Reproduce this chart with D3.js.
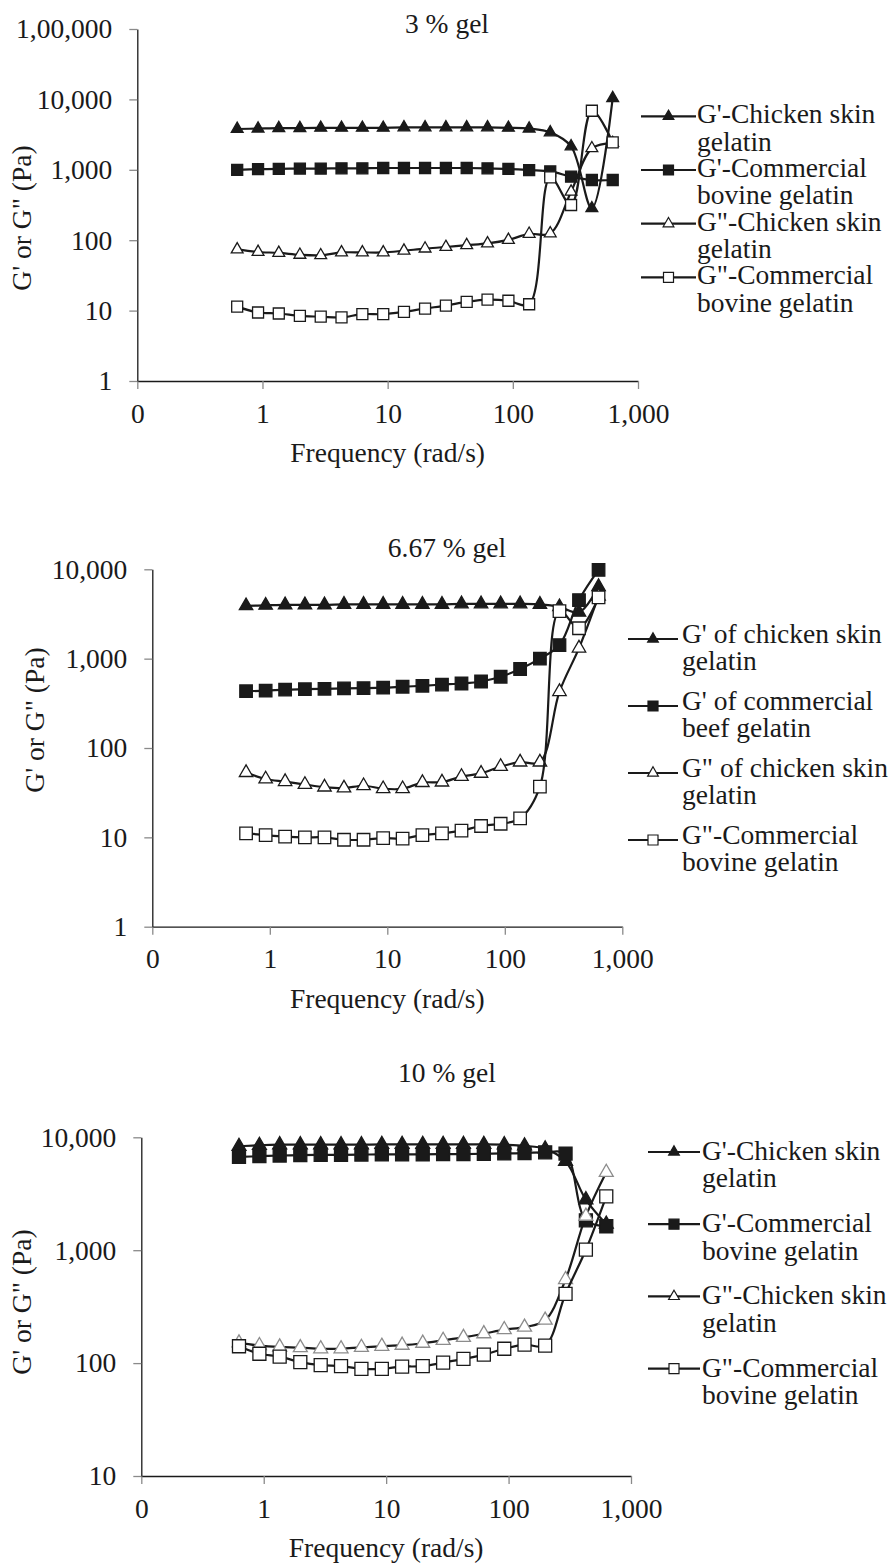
<!DOCTYPE html>
<html>
<head>
<meta charset="utf-8">
<script src="https://cdn.jsdelivr.net/npm/d3@7"></script>
<style>
  html, body { margin: 0; padding: 0; background: #fff; }
</style>
</head>
<body>
<div id="chart"></div>
<script>
// frequency sweep (rad/s), shared by all three gels
const freq = [0.628, 0.922, 1.35, 1.99, 2.92, 4.28, 6.28, 9.22, 13.5, 19.9, 29.2, 42.8, 62.8, 92.2, 135, 199, 292, 428, 628];

const xTicks = [0.1, 1, 10, 100, 1000];
const xTickLabels = ["0", "1", "10", "100", "1,000"];

// 3 % gel
const gpChicken3 = [3800, 3850, 3900, 3900, 3950, 3950, 3950, 3950, 4000, 4000, 4000, 4000, 4000, 3950, 3850, 3400, 2150, 284, 10400];
const gpBovine3 = [1000, 1020, 1030, 1040, 1040, 1050, 1050, 1060, 1060, 1060, 1060, 1060, 1050, 1030, 990, 950, 800, 716, 716];
const gppChicken3 = [74, 68, 66, 62, 61, 67, 67, 67, 71, 76, 80, 85, 90, 101, 123, 125, 489, 2020, 2400];
const gppBovine3 = [11.4, 9.4, 9.1, 8.4, 8.2, 8.0, 8.9, 8.9, 9.6, 10.7, 11.8, 13.3, 14.3, 13.8, 12.3, 782, 316, 6900, 2450];
const yTicks3 = [1, 10, 100, 1000, 10000, 100000];
const yTickLabels3 = ["1", "10", "100", "1,000", "10,000", "1,00,000"];
const legend3 = [
  ["G'-Chicken skin", "gelatin"],
  ["G'-Commercial", "bovine gelatin"],
  ["G\"-Chicken skin", "gelatin"],
  ["G\"-Commercial", "bovine gelatin"]
];

// 6.67 % gel
const gpChicken6 = [3900, 3950, 4000, 4000, 4000, 4050, 4050, 4050, 4050, 4050, 4050, 4100, 4100, 4100, 4100, 4050, 3800, 3300, 6400];
const gpBovine6 = [432, 438, 450, 455, 460, 465, 468, 473, 485, 497, 513, 527, 555, 627, 766, 1000, 1420, 4530, 9840];
const gppChicken6 = [53, 45, 42, 39, 36.5, 35.6, 37.8, 35, 35, 41, 41.5, 48, 52, 62, 69.5, 69.5, 427, 1310, 5000];
const gppBovine6 = [11.1, 10.6, 10.2, 10.0, 10.0, 9.4, 9.4, 9.8, 9.7, 10.6, 11.1, 11.9, 13.4, 14.2, 16.3, 37, 3410, 2190, 4860];
const yTicks6 = [1, 10, 100, 1000, 10000];
const yTickLabels6 = ["1", "10", "100", "1,000", "10,000"];
const legend6 = [
  ["G' of chicken skin", "gelatin"],
  ["G' of commercial", "beef gelatin"],
  ["G\" of chicken skin", "gelatin"],
  ["G\"-Commercial", "bovine gelatin"]
];

// 10 % gel
const gpChicken10 = [8320, 8500, 8600, 8600, 8600, 8600, 8600, 8650, 8650, 8650, 8650, 8650, 8650, 8600, 8400, 7900, 6140, 2800, 1700];
const gpBovine10 = [6700, 6800, 6900, 6950, 7000, 7000, 7030, 7050, 7050, 7050, 7100, 7100, 7150, 7200, 7250, 7360, 7180, 1840, 1630];
const gppChicken10 = [151, 143, 139, 137, 134, 134, 138, 141, 144, 150, 159, 169, 182, 198, 208, 240, 550, 2000, 4900];
const gppBovine10 = [141, 121, 114, 102, 96, 94, 89, 89, 93, 94, 101, 109, 119, 134, 146, 143, 411, 1010, 3000];
const yTicks10 = [10, 100, 1000, 10000];
const yTickLabels10 = ["10", "100", "1,000", "10,000"];
const legend10 = legend3;

const titles = ["3 % gel", "6.67 % gel", "10 % gel"];

var width = 893, height = 1564;
var fontSize = 27.5;
var fontFamily = "'Liberation Serif', 'Times New Roman', serif";

// marker style per series: filled triangle, filled square, open triangle, open square
var markerTypes = [
  { sym: d3.symbolTriangle, fill: "#1a1a1a", stroke: "#1a1a1a" },
  { sym: d3.symbolSquare, fill: "#1a1a1a", stroke: "#1a1a1a" },
  { sym: d3.symbolTriangle, fill: "#fff", stroke: "#1a1a1a" },
  { sym: d3.symbolSquare, fill: "#fff", stroke: "#1a1a1a" }
];

var panels = [
  {
    title: titles[0], titleY: 33,
    series: [gpChicken3, gpBovine3, gppChicken3, gppBovine3],
    yTicks: yTicks3, yLabels: yTickLabels3, legend: legend3,
    x0: 137.3, x1: 638, yTop: 29, yBot: 381, yDomain: [1, 100000],
    yTitleX: 31, yTitleY: 218, mk: 11,
    leg: { x0: 641, x1: 696, tx: 697, y: 123.3, step: 53.7, dy: -7 }
  },
  {
    title: titles[1], titleY: 557,
    series: [gpChicken6, gpBovine6, gppChicken6, gppBovine6],
    yTicks: yTicks6, yLabels: yTickLabels6, legend: legend6,
    x0: 152.3, x1: 622.3, yTop: 569.3, yBot: 926.7, yDomain: [1, 10000],
    yTitleX: 44, yTitleY: 720, mk: 12.5,
    leg: { x0: 628, x1: 678, tx: 682, y: 643, step: 67, dy: -4 }
  },
  {
    title: titles[2], titleY: 1082,
    series: [gpChicken10, gpBovine10, gppChicken10, gppBovine10],
    yTicks: yTicks10, yLabels: yTickLabels10, legend: legend10,
    x0: 141.3, x1: 631, yTop: 1137.3, yBot: 1476, yDomain: [10, 10000],
    yTitleX: 31, yTitleY: 1302, mk: 13, greyOpenTri: true,
    leg: { x0: 648, x1: 700, tx: 702, y: 1160, step: 72.2, dy: -8 }
  }
];

var svg = d3.select("#chart").append("svg")
  .attr("width", width)
  .attr("height", height)
  .style("font-family", fontFamily);

svg.append("rect").attr("width", width).attr("height", height).attr("fill", "#fff");

function markerPath(type, side) {
  // square gets the given side, triangle about the same width
  var area = type.sym === d3.symbolSquare ? side * side : side * side * 0.5;
  return d3.symbol().type(type.sym).size(area)();
}

function label(sel) {
  return sel.style("font-family", fontFamily)
    .style("font-size", fontSize + "px")
    .attr("fill", "#1a1a1a");
}

panels.forEach(function (p) {
  var g = svg.append("g");

  var x = d3.scaleLog().domain([0.1, 1000]).range([p.x0, p.x1]);
  var y = d3.scaleLog().domain(p.yDomain).range([p.yBot, p.yTop]);

  // title
  g.append("text")
    .attr("x", 447)
    .attr("y", p.titleY)
    .attr("text-anchor", "middle")
    .call(label)
    .text(p.title);

  // axes
  var xAxis = d3.axisBottom(x)
    .tickValues(xTicks)
    .tickFormat(function (d, i) { return xTickLabels[i]; })
    .tickSize(8).tickSizeOuter(0).tickPadding(14);
  var yAxis = d3.axisLeft(y)
    .tickValues(p.yTicks)
    .tickFormat(function (d, i) { return p.yLabels[i]; })
    .tickSize(8).tickSizeOuter(0).tickPadding(17);

  var gx = g.append("g").attr("transform", "translate(0," + p.yBot + ")").call(xAxis);
  var gy = g.append("g").attr("transform", "translate(" + p.x0 + ",0)").call(yAxis);
  [gx, gy].forEach(function (a) {
    a.attr("font-family", null).attr("font-size", null);
    a.select(".domain").attr("stroke", "#1a1a1a").attr("stroke-width", 1.3);
    a.selectAll(".tick line").attr("stroke", "#8a8a8a").attr("stroke-width", 1.3);
    a.selectAll(".tick text").call(label);
  });

  // axis titles
  g.append("text")
    .attr("x", (p.x0 + p.x1) / 2)
    .attr("y", p.yBot + 81)
    .attr("text-anchor", "middle")
    .call(label)
    .text("Frequency (rad/s)");

  g.append("text")
    .attr("transform", "translate(" + p.yTitleX + "," + p.yTitleY + ") rotate(-90)")
    .attr("text-anchor", "middle")
    .call(label)
    .text("G' or G\" (Pa)");

  var line = d3.line()
    .x(function (d) { return x(d[0]); })
    .y(function (d) { return y(d[1]); })
    .curve(d3.curveCatmullRom.alpha(0.5));

  // series: line then markers, in Excel's order
  p.series.forEach(function (vals, si) {
    var pts = vals.map(function (v, i) { return [freq[i], v]; });
    var type = markerTypes[si];
    var stroke = (si === 2 && p.greyOpenTri) ? "#8c8c8c" : type.stroke;

    g.append("path")
      .datum(pts)
      .attr("d", line)
      .attr("fill", "none")
      .attr("stroke", "#1a1a1a")
      .attr("stroke-width", 2.2);

    g.selectAll(null)
      .data(pts)
      .enter().append("path")
      .attr("transform", function (d) { return "translate(" + x(d[0]) + "," + y(d[1]) + ")"; })
      .attr("d", markerPath(type, p.mk))
      .attr("fill", type.fill)
      .attr("stroke", stroke)
      .attr("stroke-width", 1.3);
  });

  // legend, two lines per entry
  var L = p.leg;
  p.legend.forEach(function (lines, si) {
    var by = L.y + si * L.step;
    var ly = by + L.dy;
    var type = markerTypes[si];
    g.append("line")
      .attr("x1", L.x0).attr("x2", L.x1)
      .attr("y1", ly).attr("y2", ly)
      .attr("stroke", "#1a1a1a").attr("stroke-width", 2.2);
    g.append("path")
      .attr("transform", "translate(" + ((L.x0 + L.x1) / 2) + "," + ly + ")")
      .attr("d", markerPath(type, 10))
      .attr("fill", type.fill)
      .attr("stroke", type.stroke)
      .attr("stroke-width", 1.2);
    var t = g.append("text")
      .attr("x", L.tx)
      .attr("y", by)
      .call(label);
    lines.forEach(function (s, k) {
      t.append("tspan")
        .attr("x", L.tx)
        .attr("dy", k === 0 ? 0 : 27.3)
        .text(s);
    });
  });
});
</script>
</body>
</html>
